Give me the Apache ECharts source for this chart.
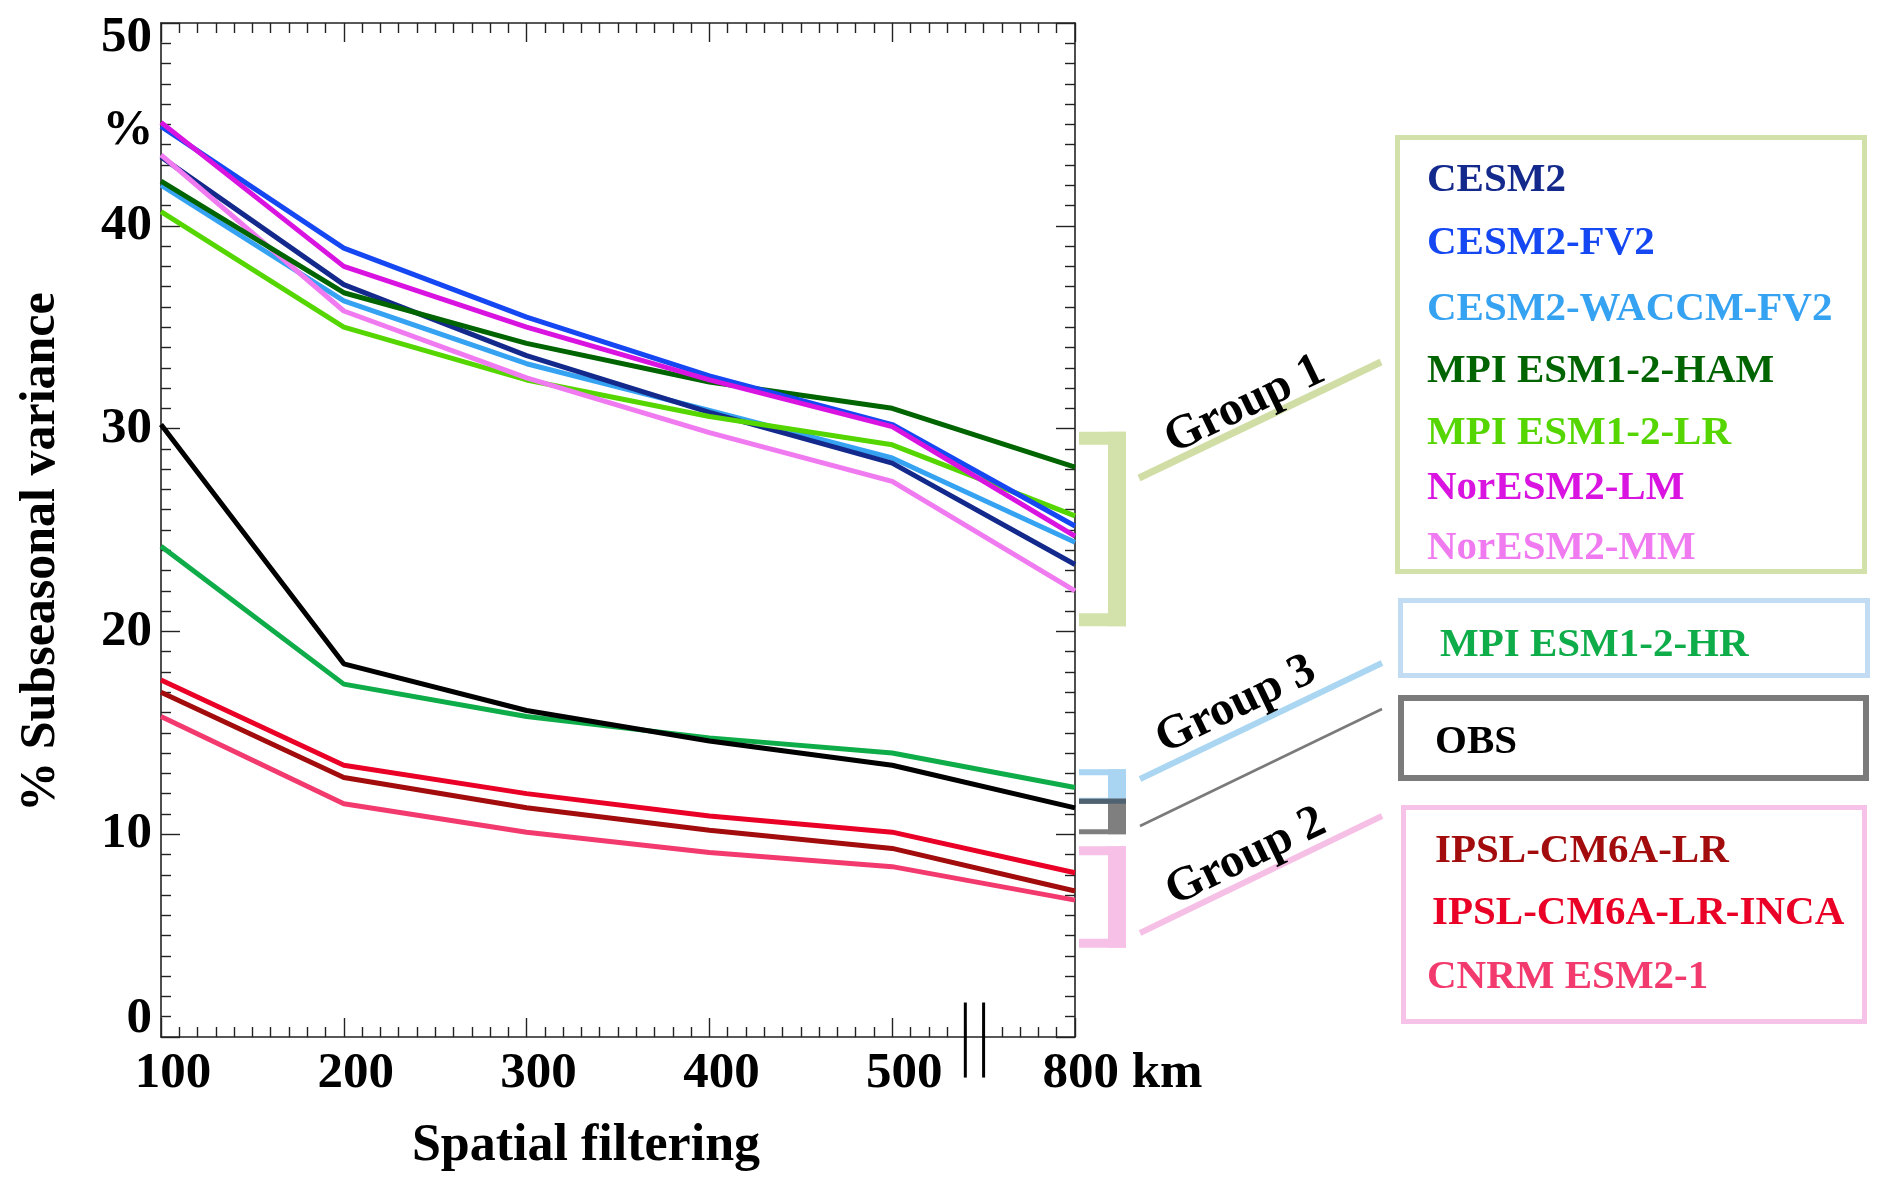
<!DOCTYPE html>
<html><head><meta charset="utf-8">
<script src="https://cdn.jsdelivr.net/npm/echarts@6/dist/echarts.min.js"></script>
<style>html,body{margin:0;padding:0;background:#fff}#c{width:1892px;height:1191px}</style>
</head><body><div id="c"></div>
<script>
// ---- data ----
const filterLabels = ['100', '200', '300', '400', '500', '800 km'];
const yTickLabels = ['0', '10', '20', '30', '40', '50'];

const modelNames = ['CESM2', 'CESM2-FV2', 'CESM2-WACCM-FV2', 'MPI ESM1-2-HAM', 'MPI ESM1-2-LR',
  'NorESM2-LM', 'NorESM2-MM', 'MPI ESM1-2-HR', 'OBS', 'IPSL-CM6A-LR', 'IPSL-CM6A-LR-INCA', 'CNRM ESM2-1'];
const modelColors = ['#14298c', '#1547f2', '#36a2f2', '#006400', '#55d600',
  '#da14e0', '#f07af0', '#0fac4a', '#000000', '#a20c0c', '#ea0026', '#f23a6e'];

const cesm2      = [43.4, 37.1, 33.6, 30.8, 28.3, 23.3];
const cesm2Fv2   = [44.9, 38.9, 35.5, 32.6, 30.2, 25.2];
const cesm2Waccm = [42.0, 36.3, 33.2, 30.9, 28.55, 24.4];
const mpiHam     = [42.2, 36.7, 34.2, 32.3, 31.0, 28.1];
const mpiLr      = [40.7, 35.0, 32.4, 30.6, 29.2, 25.7];
const norLm      = [45.1, 38.0, 35.0, 32.4, 30.1, 24.7];
const norMm      = [43.5, 35.8, 32.5, 29.8, 27.4, 22.0];
const mpiHr      = [24.2, 17.4, 15.8, 14.75, 14.0, 12.3];
const obs        = [30.2, 18.4, 16.1, 14.6, 13.4, 11.3];
const ipslLr     = [17.0, 12.8, 11.3, 10.2, 9.3, 7.2];
const ipslInca   = [17.6, 13.4, 12.0, 10.9, 10.1, 8.1];
const cnrm       = [15.8, 11.5, 10.1, 9.1, 8.4, 6.75];
const allValues = [cesm2, cesm2Fv2, cesm2Waccm, mpiHam, mpiLr, norLm, norMm, mpiHr, obs, ipslLr, ipslInca, cnrm];

const groupNames = ['Group 1', 'Group 3', 'Group 2'];
// bracket extents (value units) : group1, group3 (blue), obs (grey), group2 (pink)
const bracketTop    = [29.85, 13.2, 11.75, 9.4];
const bracketBottom = [20.25, 11.5, 10.0, 4.4];

// ---- chart ----
const FONT = "'Liberation Serif','Times New Roman',serif";
const chart = echarts.init(document.getElementById('c'));
const AX = '#222';

const drawOrder = [2, 0, 4, 6, 3, 1, 5, 7, 8, 9, 10, 11];
const series = drawOrder.map(i => ({
  name: modelNames[i], type: 'line', symbol: 'none', smooth: false,
  lineStyle: { color: modelColors[i], width: 5 }, itemStyle: { color: modelColors[i] },
  data: allValues[i].map((v, k) => [k, v]), z: 3
}));

const baseX = {
  type: 'value', min: 0, max: 5, interval: 1,
  axisLine: { show: true, onZero: false, lineStyle: { color: AX, width: 1.6 } },
  axisTick: { show: true, inside: true, length: 19, lineStyle: { color: AX, width: 1.4 } },
  minorTick: { show: true, splitNumber: 10, length: 10, lineStyle: { color: AX, width: 1.4 } },
  splitLine: { show: false }, minorSplitLine: { show: false }
};
const baseY = {
  type: 'value', min: 0, max: 50, interval: 10,
  axisLine: { show: true, onZero: false, lineStyle: { color: AX, width: 1.6 } },
  axisTick: { show: true, inside: true, length: 19, lineStyle: { color: AX, width: 1.4 } },
  minorTick: { show: true, splitNumber: 10, length: 10, lineStyle: { color: AX, width: 1.4 } },
  splitLine: { show: false }, minorSplitLine: { show: false }
};
const lblStyle = { fontFamily: FONT, fontWeight: 'bold', fontSize: 51, color: '#000' };

chart.setOption({
  animation: false,
  backgroundColor: '#fff',
  grid: { left: 161, right: 817, top: 23, bottom: 154, containLabel: false },
  xAxis: [
    Object.assign({}, baseX, {
      position: 'bottom',
      name: 'Spatial filtering', nameLocation: 'middle', nameGap: 84,
      nameTextStyle: { fontFamily: FONT, fontWeight: 'bold', fontSize: 52, color: '#000', padding: [0, 64, 0, 0] },
      axisLabel: {
        show: true, margin: 11,
        formatter: v => {
          const t = filterLabels[Math.round(v)];
          return Math.round(v) === 5 ? '{k|' + t + '}' : '{n|' + t + '}';
        },
        rich: {
          n: Object.assign({}, lblStyle, { padding: [0, 0, 0, 24] }),
          k: Object.assign({}, lblStyle, { padding: [0, 0, 0, 95] })
        }
      }
    }),
    Object.assign({}, baseX, { position: 'top', axisLabel: { show: false } })
  ],
  yAxis: [
    Object.assign({}, baseY, {
      position: 'left',
      name: '% Subseasonal variance', nameLocation: 'middle', nameGap: 95, nameRotate: 90,
      nameTextStyle: { fontFamily: FONT, fontWeight: 'bold', fontSize: 50, color: '#000', padding: [0, 44, 0, 0] },
      axisLabel: {
        show: true, margin: 9,
        formatter: v => {
          const t = yTickLabels[Math.round(v / 10)];
          if (v === 50) return '{t|' + t + '}';
          if (v === 0) return '{b|' + t + '}';
          return '{n|' + t + '}';
        },
        rich: {
          n: Object.assign({}, lblStyle),
          t: Object.assign({}, lblStyle, { padding: [30, 0, 0, 0] }),
          b: Object.assign({}, lblStyle, { padding: [0, 0, 36, 0] })
        }
      }
    }),
    Object.assign({}, baseY, { position: 'right', axisLabel: { show: false } })
  ],
  series: series
});

// ---- annotations ----
function px(x, y) { return chart.convertToPixel({ gridIndex: 0 }, [x, y]); }
const g = [];
// axis break marks
[4.40, 4.50].forEach(xv => {
  const a = px(xv, 1.7), b = px(xv, -2.0);
  g.push({ type: 'line', shape: { x1: a[0], y1: a[1], x2: b[0], y2: b[1] }, style: { stroke: '#000', lineWidth: 3 }, z: 10 });
});
// unit label
g.push({ type: 'text', x: 128, y: px(0, 44.7)[1], style: { text: '%', font: 'bold 51px ' + FONT, fill: '#000', align: 'center', verticalAlign: 'middle' }, z: 10 });

// brackets
const bx0 = 1079, bxBar = 1108, bxEnd = 1126;
const bracketColors = ['#d3e1aa', '#a9d5f2', '#7f7f7f', '#f7c0e6'];
const hThick = [13, 6, 5, 9];
for (let i = 0; i < 4; i++) {
  const yt = px(0, bracketTop[i])[1], yb = px(0, bracketBottom[i])[1];
  const c = bracketColors[i];
  g.push({ type: 'rect', shape: { x: bx0, y: yt, width: bxEnd - bx0, height: hThick[i] }, style: { fill: c }, z: 5 });
  g.push({ type: 'rect', shape: { x: bxBar, y: yt, width: bxEnd - bxBar, height: yb - yt }, style: { fill: c }, z: 5 });
  g.push({ type: 'rect', shape: { x: bx0, y: yb - hThick[i], width: bxEnd - bx0, height: hThick[i] }, style: { fill: c }, z: 5 });
}
// overlap of blue & grey brackets
{
  const yo = px(0, bracketTop[2])[1], yb = px(0, bracketBottom[1])[1];
  g.push({ type: 'rect', shape: { x: bx0, y: yo, width: bxEnd - bx0, height: yb - yo }, style: { fill: '#4f6272' }, z: 6 });
}

// connectors
const conns = [
  [1139, 478, 1381, 362, '#d0dea6', 7],
  [1140, 779, 1382, 663, '#aad6f2', 6],
  [1140, 826, 1382, 709, '#7a7a7a', 2.5],
  [1140, 933, 1382, 816, '#f6c0e6', 6]
];
conns.forEach(c => g.push({ type: 'line', shape: { x1: c[0], y1: c[1], x2: c[2], y2: c[3] }, style: { stroke: c[4], lineWidth: c[5] }, z: 5 }));

// group labels
const groupPos = [[1245, 405], [1236, 705], [1246, 857]];
groupNames.forEach((n, i) => g.push({
  type: 'text', x: groupPos[i][0], y: groupPos[i][1], rotation: 0.45,
  style: { text: n, font: 'bold 48px ' + FONT, fill: '#000', align: 'center', verticalAlign: 'middle' }, z: 8
}));

// legend boxes
const boxes = [
  [1397.5, 137.5, 467, 434, '#d2e0a9', 5],
  [1400.5, 600.5, 467, 75, '#c2dcf4', 5],
  [1401, 698, 465, 80, '#7b7b7b', 6],
  [1403.5, 807.5, 461, 214, '#f7c2e8', 5]
];
boxes.forEach(b => g.push({ type: 'rect', shape: { x: b[0], y: b[1], width: b[2], height: b[3] }, style: { fill: 'none', stroke: b[4], lineWidth: b[5] }, z: 5 }));

// legend texts
const legX = [1427, 1427, 1427, 1427, 1427, 1427, 1427, 1440, 1435, 1435, 1432, 1427];
const legY = [180, 243, 309, 371, 433, 488, 548, 645, 742, 851, 913, 977];
modelNames.forEach((n, i) => g.push({
  type: 'text', x: legX[i], y: legY[i],
  style: { text: n, font: 'bold 41px ' + FONT, fill: modelColors[i], align: 'left', verticalAlign: 'middle' }, z: 8
}));

chart.setOption({ graphic: g });
</script>
</body></html>
